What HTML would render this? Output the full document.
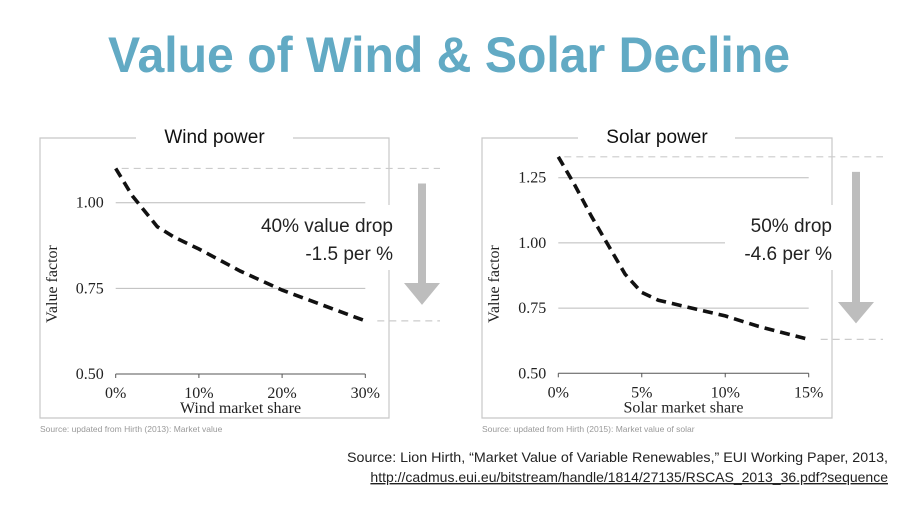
<!DOCTYPE html>
<html><head><meta charset="utf-8"><style>
html,body{margin:0;padding:0;background:#fff;}
svg{display:block;font-family:"Liberation Sans",sans-serif;}
.serif{font-family:"Liberation Serif",serif;}
</style></head><body>
<svg id="svg" width="900" height="506" viewBox="0 0 900 506">
<text x="449" y="72" text-anchor="middle" font-size="50" font-weight="bold" fill="#62aac4" textLength="682" lengthAdjust="spacingAndGlyphs">Value of Wind &amp; Solar Decline</text>
<g id="wind"></g>
<g id="solar"></g>
<text x="888" y="462" text-anchor="end" font-size="14" fill="#222" textLength="541" lengthAdjust="spacingAndGlyphs">Source: Lion Hirth, “Market Value of Variable Renewables,”  EUI Working Paper, 2013,</text>
<text x="888" y="482" text-anchor="end" font-size="14" fill="#222" text-decoration="underline">http://cadmus.eui.eu/bitstream/handle/1814/27135/RSCAS_2013_36.pdf?sequence</text>
</svg>
<script>
const windX = [0, 2, 5, 7, 10, 15, 20, 25, 30];
const windY = [1.10, 1.02, 0.93, 0.90, 0.865, 0.80, 0.745, 0.70, 0.655];
const windXTicks = [0, 10, 20, 30];
const solarX = [0, 1, 2, 3, 4, 5, 6, 8, 10, 12, 15];
const solarY = [1.33, 1.22, 1.10, 0.99, 0.88, 0.81, 0.78, 0.75, 0.72, 0.68, 0.63];
const solarXTicks = [0, 5, 10, 15];
const windYTicks = [0.50, 0.75, 1.00];
const solarYTicks = [0.50, 0.75, 1.00, 1.25];
const NS = "http://www.w3.org/2000/svg";
function mk(parent, tag, attrs, text){
  const e = document.createElementNS(NS, tag);
  for (const k in attrs) e.setAttribute(k, attrs[k]);
  if (text !== undefined) e.textContent = text;
  parent.appendChild(e);
  return e;
}
function drawChart(g, cfg){
  const sx = v => cfg.x0 + (v - cfg.xmin)/(cfg.xmax - cfg.xmin)*(cfg.x1 - cfg.x0);
  const sy = v => cfg.y0 + (v - 0.5)/(cfg.ytop - 0.5)*(cfg.y1 - cfg.y0);
  const b = cfg.box;
  let p = mk(g,'path',{d:`M${b.l+96},${b.t} H${b.l} V${b.b} H${b.r} V${cfg.gapBot} M${b.r},${cfg.gapTop} V${b.t} H${b.l+253}`,fill:'none',stroke:'#c8c8c8','stroke-width':1.2});
  
  
  let t = mk(g,'text',{x:(b.l+b.r)/2,y:b.t+5,'text-anchor':'middle','font-size':19,fill:'#111'},cfg.title);
  
  
  cfg.yTicks.forEach(v=>{
    const y = sy(v);
    if (v > 0.5) {
      const xe = (cfg.shortGrid && v===1.00) ? cfg.shortGrid : cfg.x1;
      const l = mk(g,'line',{x1:cfg.x0,x2:xe,y1:y,y2:y,stroke:'#bbb','stroke-width':1});
      
      
    }
    const tt = mk(g,'text',{x:cfg.x0-12,y:y+5,'text-anchor':'end','font-size':16,fill:'#222',class:'serif'},v.toFixed(2));
    
    
  });
  const ax = mk(g,'line',{x1:cfg.x0,x2:cfg.x1,y1:sy(0.5),y2:sy(0.5),stroke:'#555','stroke-width':1});
  
  
  cfg.xTicks.forEach(v=>{
    const x = sx(v);
    const tk = mk(g,'line',{x1:x,x2:x,y1:sy(0.5),y2:sy(0.5)+4,stroke:'#555'});
    
    
    const tl = mk(g,'text',{x:x,y:sy(0.5)+24,'text-anchor':'middle','font-size':16,fill:'#222',class:'serif'},v+'%');
    
    
  });
  const xt = mk(g,'text',{x:(cfg.x0+cfg.x1)/2,y:sy(0.5)+39,'text-anchor':'middle','font-size':16,fill:'#222',class:'serif'},cfg.xlabel);
  
  
  const yx = b.l+17, yy = (b.t+b.b)/2+6;
  const yt = mk(g,'text',{x:yx,y:yy,'text-anchor':'middle','font-size':16,fill:'#222',class:'serif',transform:`rotate(-90 ${yx} ${yy})`},'Value factor');
  
  
  const xs = cfg.xs, ys = cfg.ys;
  const yS = sy(ys[0]), yE = sy(ys[ys.length-1]);
  const r1 = mk(g,'line',{x1:sx(xs[0])+6,x2:cfg.refEnd,y1:yS,y2:yS,stroke:'#ccc','stroke-width':1.2,'stroke-dasharray':'7 5'});
  
  
  const r2 = mk(g,'line',{x1:sx(xs[xs.length-1])+12,x2:cfg.refEnd,y1:yE,y2:yE,stroke:'#ccc','stroke-width':1.2,'stroke-dasharray':'7 5'});
  
  
  const d = xs.map((v,i)=>(i?'L':'M')+sx(v).toFixed(1)+','+sy(ys[i]).toFixed(1)).join(' ');
  const ln = mk(g,'path',{d:d,fill:'none',stroke:'#111','stroke-width':3.6,'stroke-dasharray':'10 6'});
  
  
  const a = cfg.arrow;
  const ar = mk(g,'path',{d:`M${a.x-4},${yS+15} H${a.x+4} V${a.hy} H${a.x+18} L${a.x},${yE-16} L${a.x-18},${a.hy} H${a.x-4} Z`,fill:'#bdbdbd'});
  
  
  cfg.notes.forEach((s,i)=>{
    const n = mk(g,'text',{x:cfg.noteX,y:cfg.noteY+i*28,'text-anchor':'end','font-size':19,fill:'#222'},s);
    
    
  });
  const src = mk(g,'text',{x:b.l,y:b.b+14,'font-size':8.5,fill:'#999'},cfg.source);
  
  
}
drawChart(document.getElementById('wind'),{
  x0:115.7,x1:365.3,xmin:0,xmax:30,y0:374,y1:202.7,ytop:1.00,
  box:{l:40,t:138,r:389,b:418},gapTop:205,gapBot:270,
  title:'Wind power',xlabel:'Wind market share',xTicks:windXTicks,yTicks:windYTicks,
  xs:windX,ys:windY,refEnd:440,arrow:{x:422,hy:283},
  notes:['40% value drop','-1.5 per %'],noteX:393,noteY:232,
  source:'Source: updated from Hirth (2013): Market value'
});
drawChart(document.getElementById('solar'),{
  x0:558.3,x1:808.7,xmin:0,xmax:15,y0:373.3,y1:177.7,ytop:1.25,
  box:{l:482,t:138,r:832,b:418},gapTop:205,gapBot:270,shortGrid:725,
  title:'Solar power',xlabel:'Solar market share',xTicks:solarXTicks,yTicks:solarYTicks,
  xs:solarX,ys:solarY,refEnd:883,arrow:{x:856,hy:302},
  notes:['50% drop','-4.6 per %'],noteX:832,noteY:232,
  source:'Source: updated from Hirth (2015): Market value of solar'
});
</script>
</body></html>
